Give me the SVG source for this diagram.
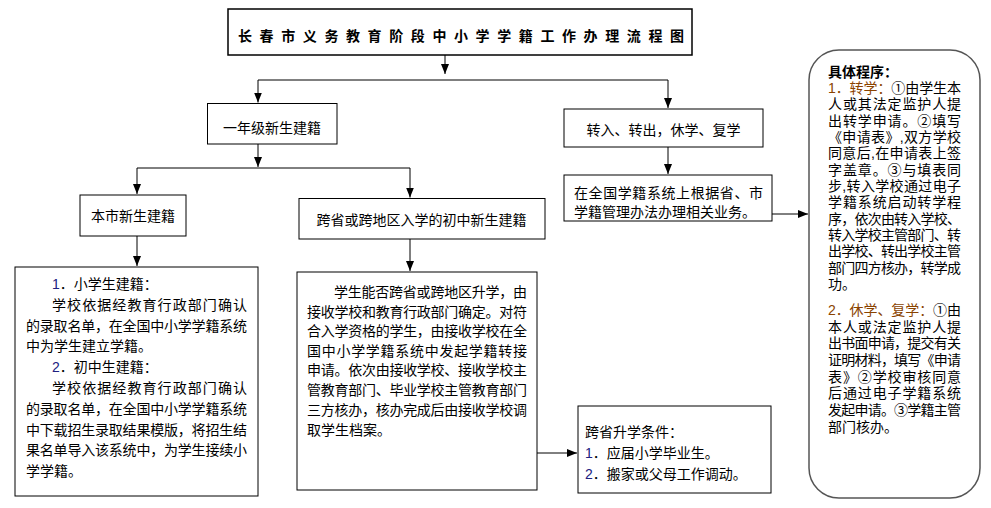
<svg xmlns="http://www.w3.org/2000/svg" width="991" height="508" viewBox="0 0 991 508">
<defs>
<marker id="arr" markerUnits="userSpaceOnUse" markerWidth="10" markerHeight="10" viewBox="0 0 10 10" refX="10" refY="5" orient="auto">
<path d="M0,1 L10,5 L0,9 Z" fill="#000"/>
</marker>
</defs>
<style>
.box{fill:#fff;stroke:#000;stroke-width:1}
.t{font-family:"Liberation Sans","Noto Sans CJK SC",sans-serif;font-size:14px;fill:#000}
.c{text-anchor:middle}
.n{fill:#202080}
.o{fill:#8a4300}
.conn path{fill:none;stroke:#000;stroke-width:1}
</style>
<rect width="991" height="508" fill="#fff"/>
<g id="title">
<rect x="228" y="9" width="464" height="46" fill="#fff" stroke="#000" stroke-width="1.5"/>
<text class="t" x="238" y="41" font-size="21" font-weight="bold" textLength="446" lengthAdjust="spacing">长春市义务教育阶段中小学学籍工作办理流程图</text>
</g>
<g id="n-grade1">
<rect class="box" x="207.5" y="103.5" width="129.5" height="40.5"/>
<text class="t c" x="272" y="133">一年级新生建籍</text>
</g>
<g id="n-transfer">
<rect class="box" x="564" y="109" width="199" height="38"/>
<text class="t c" x="663.5" y="135">转入、转出，休学、复学</text>
</g>
<g id="n-national">
<rect class="box" x="564" y="175" width="208" height="46"/>
<text class="t" x="574" y="198" textLength="189" lengthAdjust="spacing">在全国学籍系统上根据省、市</text>
<text class="t" x="574" y="217">学籍管理办法办理相关业务。</text>
</g>
<g id="n-local">
<rect class="box" x="80" y="195" width="106" height="41"/>
<text class="t c" x="133" y="221">本市新生建籍</text>
</g>
<g id="n-cross">
<rect class="box" x="299" y="198.5" width="246" height="40.5"/>
<text class="t c" x="421.5" y="225">跨省或跨地区入学的初中新生建籍</text>
</g>
<g id="n-local-detail">
<rect class="box" x="15" y="267" width="243" height="229"/>
<text class="t" x="52" y="289"><tspan class="n">1</tspan>．小学生建籍：</text>
<text class="t" x="52" y="310" textLength="195" lengthAdjust="spacing">学校依据经教育行政部门确认</text>
<text class="t" x="26" y="331" textLength="221" lengthAdjust="spacing">的录取名单，在全国中小学学籍系统</text>
<text class="t" x="26" y="351">中为学生建立学籍。</text>
<text class="t" x="52" y="372"><tspan class="n">2</tspan>．初中生建籍：</text>
<text class="t" x="52" y="393" textLength="195" lengthAdjust="spacing">学校依据经教育行政部门确认</text>
<text class="t" x="26" y="414" textLength="221" lengthAdjust="spacing">的录取名单，在全国中小学学籍系统</text>
<text class="t" x="26" y="435" textLength="221" lengthAdjust="spacing">中下载招生录取结果模版，将招生结</text>
<text class="t" x="26" y="455" textLength="221" lengthAdjust="spacing">果名单导入该系统中，为学生接续小</text>
<text class="t" x="26" y="476">学学籍。</text>
</g>
<g id="n-cross-detail">
<rect class="box" x="297" y="272" width="240" height="218"/>
<text class="t" x="334" y="297" textLength="193" lengthAdjust="spacing">学生能否跨省或跨地区升学，由</text>
<text class="t" x="307" y="317" textLength="220" lengthAdjust="spacing">接收学校和教育行政部门确定。对符</text>
<text class="t" x="307" y="336" textLength="220" lengthAdjust="spacing">合入学资格的学生，由接收学校在全</text>
<text class="t" x="307" y="356" textLength="220" lengthAdjust="spacing">国中小学学籍系统中发起学籍转接</text>
<text class="t" x="307" y="375" textLength="220" lengthAdjust="spacing">申请。依次由接收学校、接收学校主</text>
<text class="t" x="307" y="395" textLength="220" lengthAdjust="spacing">管教育部门、毕业学校主管教育部门</text>
<text class="t" x="307" y="415" textLength="220" lengthAdjust="spacing">三方核办，核办完成后由接收学校调</text>
<text class="t" x="307" y="435">取学生档案。</text>
</g>
<g id="n-conditions">
<rect class="box" x="578" y="406" width="193" height="87"/>
<text class="t" x="585" y="437">跨省升学条件：</text>
<text class="t" x="585" y="458"><tspan class="n">1</tspan>．应届小学毕业生。</text>
<text class="t" x="585" y="479"><tspan class="n">2</tspan>．搬家或父母工作调动。</text>
</g>
<g id="n-procedure">
<rect x="809" y="50" width="171" height="448" rx="30" ry="30" fill="#fff" stroke="#555" stroke-width="1.5"/>
<text class="t" x="828" y="77" font-weight="bold">具体程序：</text>
<text class="t" x="828" y="93" textLength="133" lengthAdjust="spacing"><tspan class="o">1．转学：</tspan>①由学生本</text>
<text class="t" x="828" y="109" textLength="133" lengthAdjust="spacing">人或其法定监护人提</text>
<text class="t" x="828" y="126" textLength="133" lengthAdjust="spacing">出转学申请。②填写</text>
<text class="t" x="828" y="142" textLength="133" lengthAdjust="spacing">《申请表》,双方学校</text>
<text class="t" x="828" y="158" textLength="133" lengthAdjust="spacing">同意后,在申请表上签</text>
<text class="t" x="828" y="175" textLength="133" lengthAdjust="spacing">字盖章。③与填表同</text>
<text class="t" x="828" y="191" textLength="133" lengthAdjust="spacing">步,转入学校通过电子</text>
<text class="t" x="828" y="207" textLength="133" lengthAdjust="spacing">学籍系统启动转学程</text>
<text class="t" x="828" y="224" textLength="133" lengthAdjust="spacing">序，依次由转入学校、</text>
<text class="t" x="828" y="240" textLength="133" lengthAdjust="spacing">转入学校主管部门、转</text>
<text class="t" x="828" y="256" textLength="133" lengthAdjust="spacing">出学校、转出学校主管</text>
<text class="t" x="828" y="273" textLength="133" lengthAdjust="spacing">部门四方核办，转学成</text>
<text class="t" x="828" y="289">功。</text>
<text class="t" x="828" y="315" textLength="133" lengthAdjust="spacing"><tspan class="o">2．休学、复学：</tspan>①由</text>
<text class="t" x="828" y="332" textLength="133" lengthAdjust="spacing">本人或法定监护人提</text>
<text class="t" x="828" y="348" textLength="133" lengthAdjust="spacing">出书面申请，提交有关</text>
<text class="t" x="828" y="365" textLength="133" lengthAdjust="spacing">证明材料，填写《申请</text>
<text class="t" x="828" y="382" textLength="133" lengthAdjust="spacing">表》②学校审核同意</text>
<text class="t" x="828" y="398" textLength="133" lengthAdjust="spacing">后通过电子学籍系统</text>
<text class="t" x="828" y="415" textLength="133" lengthAdjust="spacing">发起申请。③学籍主管</text>
<text class="t" x="828" y="432">部门核办。</text>
</g>
<g id="connectors" class="conn">
<path d="M445,55 V74" marker-end="url(#arr)"/>
<path d="M258,80 H668"/>
<path d="M258,80 V102.5" marker-end="url(#arr)"/>
<path d="M668,80 V108" marker-end="url(#arr)"/>
<path d="M258,144 V167" marker-end="url(#arr)"/>
<path d="M137,168 H410"/>
<path d="M137,168 V194" marker-end="url(#arr)"/>
<path d="M410,168 V197.5" marker-end="url(#arr)"/>
<path d="M137,236 V266" marker-end="url(#arr)"/>
<path d="M410,239 V271" marker-end="url(#arr)"/>
<path d="M668,147 V174" marker-end="url(#arr)"/>
<path d="M537,453 H577" marker-end="url(#arr)"/>
<path d="M772,214 H808" marker-end="url(#arr)"/>
</g>
</svg>
